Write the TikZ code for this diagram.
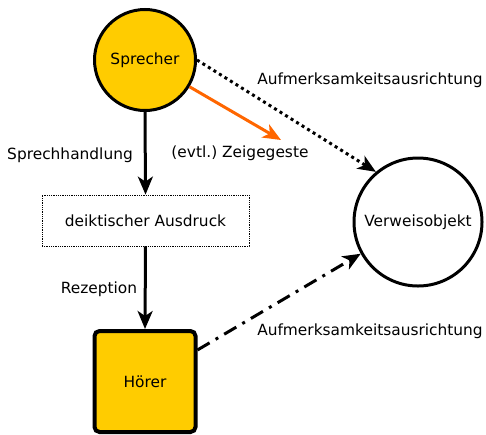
\documentclass[tikz,border=0pt]{standalone}
\usepackage{fontspec}
\setmainfont{DejaVu Sans}
\usetikzlibrary{arrows.meta}
\definecolor{gold}{HTML}{FFCC00}
\definecolor{orng}{HTML}{FF6600}
\tikzset{
  every node/.style={font=\fontsize{15.4}{18}\selectfont\frenchspacing},
  actor/.style={circle, draw, line width=3pt, fill=gold, minimum size=101pt, inner sep=0pt},
  objc/.style={circle, draw, line width=3pt, fill=white, minimum size=128pt, inner sep=0pt},
  exprbox/.style={rectangle, draw, densely dotted, line width=0.8pt, minimum width=207pt, minimum height=51pt, inner sep=0pt},
  hearer/.style={rectangle, rounded corners=5pt, draw, line width=4pt, fill=gold, minimum size=101pt, inner sep=0pt},
  tipx/.style={-{Stealth[length=18pt,width=15pt,inset=5pt]}},
  conn/.style={tipx, line width=3pt},
  lbl/.style={inner sep=0pt}
}
\begin{document}
\begin{tikzpicture}[x=1pt,y=-1pt]
\useasboundingbox (0,0) rectangle (486,434);
\node[actor] (sp) at (145,60) {Sprecher};
\node[objc] (ver) at (418,222) {Verweisobjekt};
\node[exprbox] (deik) at (145.5,220.5) {deiktischer Ausdruck};
\node[hearer] (hor) at (145,381.5) {Hörer};
\coordinate (zg) at (281,140);

\draw[conn] (sp.south) -- (deik.north);
\draw[conn] (deik.south) -- (hor.north);
\draw[conn, orng, line width=3pt] (sp.-31) -- (zg);
\draw[conn, dash pattern=on 3pt off 3.5pt] (sp.east) -- (ver.130);
\draw[conn, dash pattern=on 14pt off 7pt on 3pt off 7pt] (hor.31) -- (ver.209);

\node[lbl] (l1) at (70,155) {Sprechhandlung};
\node[lbl] (l2) at (99,289) {Rezeption};
\node[lbl] (l3) at (240,153) {(evtl.) Zeigegeste};
\node[lbl] (l4) at (370,80) {Aufmerksamkeitsausrichtung};
\node[lbl] (l5) at (370,331) {Aufmerksamkeitsausrichtung};
\end{tikzpicture}
\end{document}
